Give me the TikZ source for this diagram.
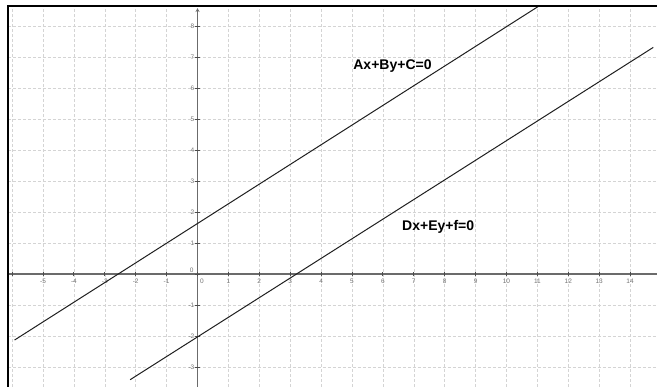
\documentclass[tikz,border=0pt]{standalone}
\usepackage{fontspec}
\setmainfont{Liberation Sans}
\usetikzlibrary{arrows.meta}
\begin{document}
\begin{tikzpicture}[x=30.9pt,y=31pt,
  gridline/.style={draw=black!17, dash pattern=on 3pt off 2pt, line width=0.6pt},
  axisline/.style={draw=black!58, line width=1.7pt},
  tickmark/.style={draw=black!70, line width=0.9pt},
  eqline/.style={draw=black!88, line width=1pt},
  ticklab/.style={font=\fontsize{6.5}{6.5}\selectfont, text=black!55, inner sep=0.5pt},
  eqlab/.style={font=\fontsize{14}{14}\selectfont\bfseries, text=black, inner sep=0pt},
  frameline/.style={draw=black, line width=2.4pt}]
\useasboundingbox (-6.392,-3.645) rectangle (14.871,8.839);
% grid
\foreach \x in {-6,...,14} \draw[gridline] (\x,-3.645) -- (\x,8.645);
\foreach \y in {-3,...,8} \draw[gridline] (-6.133,\y) -- (14.871,\y);
% axes
\coordinate (xl) at (-6.133,0);
\coordinate (xr) at (14.871,0);
\coordinate (yb) at (0,-3.645);
\coordinate (yt) at (0,8.58);
\draw[axisline] (xl) -- (xr);
\draw[axisline, -{Stealth[length=4pt,width=4pt]}] (yb) -- (yt);
% ticks
\foreach \x in {-6,...,14} \draw[tickmark] (\x,-0.08) -- (\x,0.08);
\foreach \y in {-3,...,8} \draw[tickmark] (-0.08,\y) -- (0.08,\y);
% tick labels
\foreach \x in {-5,...,-1,1,2,...,14} \node[ticklab] (lx\x) at (\x,-0.22) {\x};
\node[ticklab] (lx0) at (0.14,-0.22) {0};
\foreach \y in {-3,...,-1,1,2,...,8} \node[ticklab, anchor=east] (ly\y) at (-0.08,\y) {\y};
\node[ticklab] (ly0) at (-0.19,0.11) {0};
% lines
\coordinate (a1) at (-5.92,-2.13);
\coordinate (a2) at (11.05,8.645);
\coordinate (b1) at (-2.18,-3.41);
\coordinate (b2) at (14.75,7.31);
\draw[eqline] (a1) -- (a2);
\draw[eqline] (b1) -- (b2);
% labels
\node[eqlab] (eq1) at (6.31,6.71) {Ax+By+C=0};
\node[eqlab] (eq2) at (7.79,1.53) {Dx+Ey+f=0};
% frame
\draw[frameline] (-6.133,-3.645) -- (-6.133,8.645) -- (14.871,8.645);
\end{tikzpicture}
\end{document}
